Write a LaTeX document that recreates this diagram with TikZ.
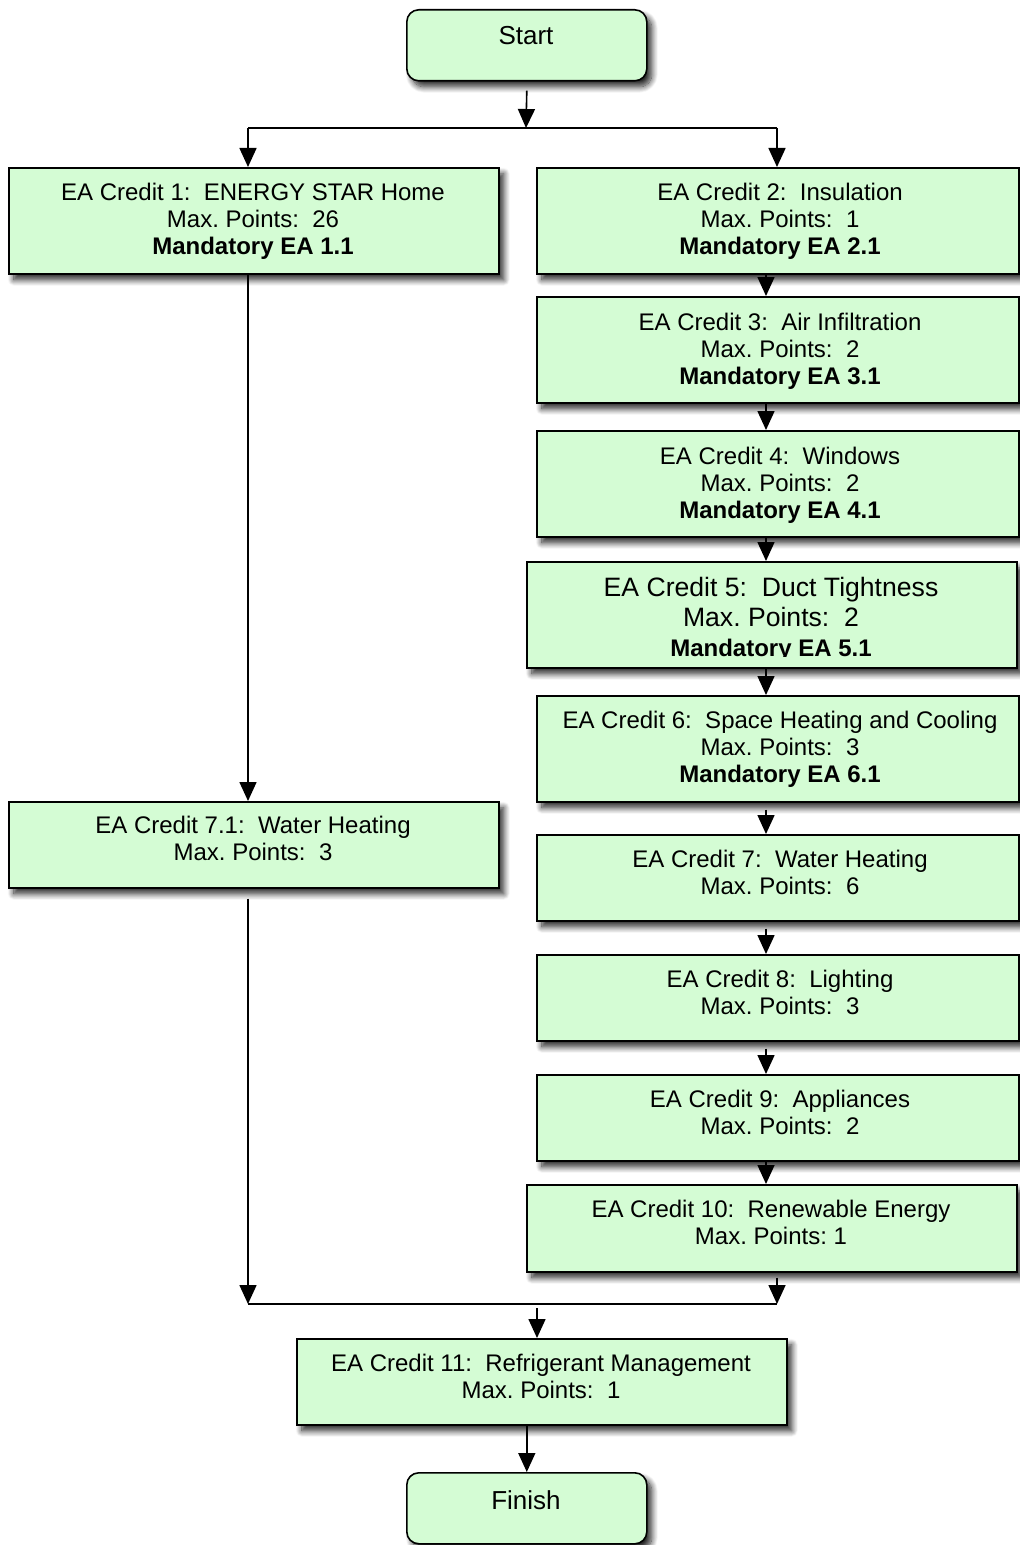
\documentclass[tikz,border=0pt]{standalone}
\usepackage{fontspec}
\setmainfont{Liberation Sans}
\usetikzlibrary{arrows.meta,calc,shadows.blur}
\definecolor{boxfill}{RGB}{212,252,212}
\newcommand{\sz}[1]{\fontsize{#1bp}{27bp}\selectfont}
\frenchspacing
\begin{document}
\begin{tikzpicture}[x=1bp,y=-1bp,
  panel/.style={draw=black, line width=1.6bp, fill=boxfill, inner sep=0,
    anchor=north west,
    blur shadow={shadow xshift=5bp, shadow yshift=-6bp,
      shadow blur radius=6bp, shadow blur steps=12, shadow opacity=85}},
  terminal/.style={panel, rounded corners=12bp},
  txt/.style={inner sep=0, align=center, anchor=north, font=\sz{24}},
  link/.style={line width=1.6bp, -{Triangle[length=19bp,width=17bp]}},
  plain/.style={line width=1.6bp}]
\useasboundingbox (0,0) rectangle (1019,1545);

% terminals
\node[terminal, minimum width=240bp, minimum height=71bp] (start) at (406,9) {};
\node[txt, font=\sz{26}] (startlbl) at (526,26) {Start};
\node[terminal, minimum width=240bp, minimum height=71bp] (finish) at (406,1472) {};
\node[txt, font=\sz{26}] (finishlbl) at (526,1490) {Finish};

% left column
\node[panel, minimum width=490bp, minimum height=106bp] (b1) at (8,167) {};
\node[txt] (t1) at (253,183) {EA Credit 1:\ \ ENERGY STAR Home\\Max. Points:\ \ 26\\\textbf{Mandatory EA 1.1}};
\node[panel, minimum width=490bp, minimum height=86bp] (b71) at (8,801) {};
\node[txt] (t71) at (253,816) {EA Credit 7.1:\ \ Water Heating\\Max. Points:\ \ 3};

% right column
\node[panel, minimum width=482bp, minimum height=106bp] (b2) at (536,167) {};
\node[txt] (t2) at (780,183) {EA Credit 2:\ \ Insulation\\Max. Points:\ \ 1\\\textbf{Mandatory EA 2.1}};
\node[panel, minimum width=482bp, minimum height=106bp] (b3) at (536,296) {};
\node[txt] (t3) at (780,313) {EA Credit 3:\ \ Air Infiltration\\Max. Points:\ \ 2\\\textbf{Mandatory EA 3.1}};
\node[panel, minimum width=482bp, minimum height=106bp] (b4) at (536,430) {};
\node[txt] (t4) at (780,447) {EA Credit 4:\ \ Windows\\Max. Points:\ \ 2\\\textbf{Mandatory EA 4.1}};
\node[panel, minimum width=490bp, minimum height=106bp] (b5) at (526,561) {};
\begin{scope}
  % the last line is cut off along the bottom of the text area
  \clip (526,561) rectangle (1016,656);
  \node[txt, font=\fontsize{26.6bp}{30bp}\selectfont] (t5) at (771,577)
    {EA Credit 5:\ \ Duct Tightness\\Max. Points:\ \ 2\\\fontsize{24bp}{30bp}\selectfont\bfseries Mandatory EA 5.1};
\end{scope}
\node[panel, minimum width=482bp, minimum height=106bp] (b6) at (536,695) {};
\node[txt] (t6) at (780,711) {EA Credit 6:\ \ Space Heating and Cooling\\Max. Points:\ \ 3\\\textbf{Mandatory EA 6.1}};
\node[panel, minimum width=482bp, minimum height=86bp] (b7) at (536,834) {};
\node[txt] (t7) at (780,850) {EA Credit 7:\ \ Water Heating\\Max. Points:\ \ 6};
\node[panel, minimum width=482bp, minimum height=86bp] (b8) at (536,954) {};
\node[txt] (t8) at (780,970) {EA Credit 8:\ \ Lighting\\Max. Points:\ \ 3};
\node[panel, minimum width=482bp, minimum height=86bp] (b9) at (536,1074) {};
\node[txt] (t9) at (780,1090) {EA Credit 9:\ \ Appliances\\Max. Points:\ \ 2};
\node[panel, minimum width=490bp, minimum height=87bp] (b10) at (526,1184) {};
\node[txt] (t10) at (771,1200) {EA Credit 10:\ \ Renewable Energy\\Max. Points: 1};

% bottom
\node[panel, minimum width=490bp, minimum height=86bp] (b11) at (296,1338) {};
\node[txt] (t11) at (541,1354) {EA Credit 11:\ \ Refrigerant Management\\Max. Points:\ \ 1};

% junction points
\coordinate (fork) at (526,128);
\coordinate (forkL) at (248,128);
\coordinate (forkR) at (777,128);
\coordinate (rc) at (766,0);
\coordinate (joinL) at (248,1304);
\coordinate (joinR) at (777,1304);
\coordinate (joinM) at (537,1304);

% connectors
\draw[link] ($(start.south)+(0,9)$) -- (fork);
\draw[plain] (forkL) -- (forkR);
\draw[link] (forkL) -- (b1.north -| forkL);
\draw[link] (forkR) -- (b2.north -| forkR);
\draw[link] (b1.south -| forkL) -- (b71.north -| forkL);
\draw[link] ($(b71.south -| joinL)+(0,10)$) -- (joinL);

\draw[link] (b2.south -| rc) -- (b3.north -| rc);
\draw[link] (b3.south -| rc) -- (b4.north -| rc);
\draw[link] (b4.south -| rc) -- (b5.north -| rc);
\draw[link] (b5.south -| rc) -- (b6.north -| rc);
\draw[link] ($(b6.south -| rc)+(0,7)$) -- (b7.north -| rc);
\draw[link] ($(b7.south -| rc)+(0,7)$) -- (b8.north -| rc);
\draw[link] ($(b8.south -| rc)+(0,7)$) -- (b9.north -| rc);
\draw[link] (b9.south -| rc) -- (b10.north -| rc);
\draw[link] ($(b10.south -| joinR)+(0,5)$) -- (joinR);

\draw[plain] (joinL) -- (joinR);
\draw[link] ($(joinM)+(0,4)$) -- (b11.north -| joinM);
\draw[link] (b11.south -| finish.north) -- (finish.north);
\end{tikzpicture}
\end{document}
